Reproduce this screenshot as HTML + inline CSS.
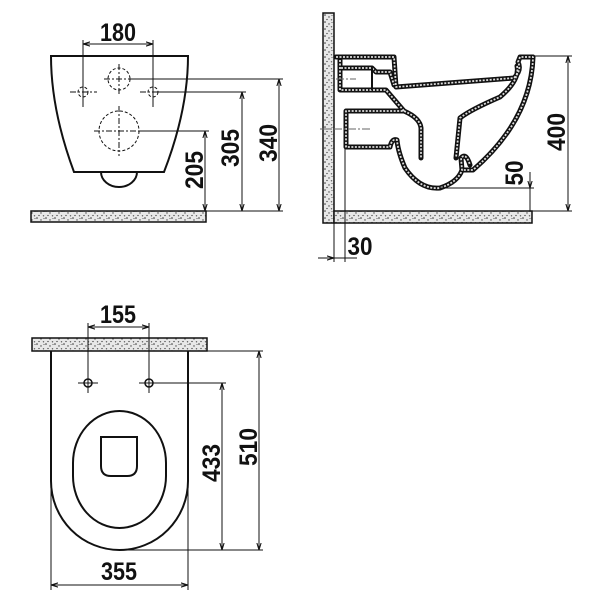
<!DOCTYPE html>
<html><head><meta charset="utf-8"><style>
html,body{margin:0;padding:0;background:#fff}
svg{display:block}
text{font-family:"Liberation Sans",sans-serif;font-weight:bold;fill:#111}
</style></head><body>
<svg width="600" height="600" viewBox="0 0 600 600" xmlns="http://www.w3.org/2000/svg">
<defs>
<pattern id="sp" width="9" height="7" patternUnits="userSpaceOnUse">
<rect width="9" height="7" fill="#e8e8e8"/>
<circle cx="1" cy="1" r="0.8" fill="#333"/><circle cx="5" cy="3" r="0.7" fill="#444"/>
<circle cx="3" cy="5.5" r="0.6" fill="#222"/><circle cx="7.5" cy="5.8" r="0.7" fill="#555"/>
<circle cx="8" cy="1.5" r="0.5" fill="#333"/>
</pattern>
<marker id="a" viewBox="0 0 10 10" refX="10" refY="5" markerWidth="7" markerHeight="7" orient="auto-start-reverse"><path d="M0,2 L10,5 L0,8" fill="none" stroke="#111" stroke-width="1.5"/></marker>
</defs>
<g fill="none" stroke="#111" stroke-width="1">
<!-- FRONT VIEW -->
<rect x="31" y="211" width="175" height="11" fill="url(#sp)" stroke-width="1.5"/>
<path d="M51,56 L188,56 Q188,110 164,172 L74,172 Q51,110 51,56 Z" stroke-width="2"/>
<path d="M101,172 A18,15 0 0 0 137,172" stroke-width="2"/>
<g stroke-dasharray="3,2">
<circle cx="119" cy="79" r="11"/><circle cx="83" cy="92" r="5"/><circle cx="153" cy="92" r="5"/><circle cx="119" cy="131" r="20"/>
</g>
<g stroke-dasharray="6,2,2,2">
<line x1="104" y1="79" x2="134" y2="79"/><line x1="119" y1="64" x2="119" y2="94"/>
<line x1="70" y1="92" x2="97" y2="92"/><line x1="140" y1="92" x2="167" y2="92"/>
<line x1="94" y1="131" x2="145" y2="131"/><line x1="119" y1="106" x2="119" y2="156"/>
</g>
<line x1="83" y1="40" x2="83" y2="107"/><line x1="153" y1="40" x2="153" y2="107"/>
<line x1="83" y1="44" x2="153" y2="44" marker-start="url(#a)" marker-end="url(#a)"/>
<line x1="134" y1="79" x2="283" y2="79"/><line x1="158" y1="92" x2="246" y2="92"/><line x1="140" y1="131" x2="209" y2="131"/>
<line x1="206" y1="211" x2="283" y2="211"/>
<line x1="279" y1="79" x2="279" y2="211" marker-start="url(#a)" marker-end="url(#a)"/>
<line x1="242" y1="92" x2="242" y2="211" marker-start="url(#a)" marker-end="url(#a)"/>
<line x1="205" y1="131" x2="205" y2="211" marker-start="url(#a)" marker-end="url(#a)"/>

<!-- SIDE VIEW -->
<rect x="323" y="13" width="11" height="210" fill="url(#sp)" stroke-width="1.5"/>
<rect x="334" y="211" width="198" height="12" fill="url(#sp)" stroke-width="1.5"/>
<g stroke-width="5" stroke-linejoin="round" stroke-linecap="round">
<path d="M336,57 L394,57 L396,87 L514,78 Q522,70 518,62 L520,57 L533,57 Q531,120 473,170 L462,170"/>
<path d="M340,60 L340,90 L386,90 L404,111 L346,111 L346,147 L390,147 Q392,138 397,140 Q398,152 405,168 Q420,190 440,188 Q458,182 462,170 L461,158 Q466,152 470,165"/>
<path d="M341,68 L372,68 L376,72 L390,72 L394,85"/>
<path d="M404,111 Q420,118 421,128 L421,158"/>
<path d="M517,66 Q520,80 500,97 Q470,110 460,118 L456,158"/>
</g>
<g stroke-width="1.8" stroke="#ddd" stroke-dasharray="2,1.5" stroke-linejoin="round">
<path d="M336,57 L394,57 L396,87 L514,78 Q522,70 518,62 L520,57 L533,57 Q531,120 473,170 L462,170"/>
<path d="M340,60 L340,90 L386,90 L404,111 L346,111 L346,147 L390,147 Q392,138 397,140 Q398,152 405,168 Q420,190 440,188 Q458,182 462,170 L461,158 Q466,152 470,165"/>
<path d="M341,68 L372,68 L376,72 L390,72 L394,85"/>
<path d="M404,111 Q420,118 421,128 L421,158"/>
<path d="M517,66 Q520,80 500,97 Q470,110 460,118 L456,158"/>
</g>
<line x1="372" y1="68" x2="372" y2="90" stroke-width="2"/>
<g stroke-dasharray="8,2,2,2" stroke="#666">
<line x1="336" y1="79" x2="356" y2="79"/><line x1="320" y1="129" x2="372" y2="129"/>
</g>
<line x1="533" y1="56" x2="572" y2="56"/><line x1="532" y1="211" x2="572" y2="211"/>
<line x1="568" y1="56" x2="568" y2="211" marker-start="url(#a)" marker-end="url(#a)"/>
<line x1="440" y1="188" x2="534" y2="188"/>
<line x1="530" y1="172" x2="530" y2="188" marker-end="url(#a)"/>
<line x1="530" y1="188" x2="530" y2="211"/>
<line x1="334" y1="223" x2="334" y2="262"/><line x1="345" y1="147" x2="345" y2="262"/>
<line x1="318" y1="258" x2="334" y2="258" marker-end="url(#a)"/>
<line x1="334" y1="258" x2="357" y2="258"/>

<!-- TOP VIEW -->
<rect x="32" y="338" width="175" height="13" fill="url(#sp)" stroke-width="1.5"/>
<path d="M51,351 L51,481 A68.5,69 0 0 0 188,481 L188,351" stroke-width="2"/>
<rect x="73" y="411" width="93" height="117" rx="46.5" ry="52" stroke-width="2"/>
<path d="M101,437 L137,437 L137,466 Q137,476 127,476 L111,476 Q101,476 101,466 Z" stroke-width="2" fill="#fff"/>
<circle cx="88" cy="383" r="4" stroke-width="1.5"/><circle cx="149" cy="383" r="4" stroke-width="1.5"/>
<line x1="78" y1="383" x2="98" y2="383"/><line x1="139" y1="383" x2="159" y2="383"/>
<line x1="88" y1="323" x2="88" y2="393"/><line x1="149" y1="323" x2="149" y2="393"/>
<line x1="88" y1="327" x2="149" y2="327" marker-start="url(#a)" marker-end="url(#a)"/>
<line x1="207" y1="351" x2="263" y2="351"/><line x1="153" y1="383" x2="226" y2="383"/>
<line x1="120" y1="550" x2="263" y2="550"/>
<line x1="259" y1="351" x2="259" y2="550" marker-start="url(#a)" marker-end="url(#a)"/>
<line x1="222" y1="383" x2="222" y2="550" marker-start="url(#a)" marker-end="url(#a)"/>
<line x1="51" y1="481" x2="51" y2="590"/><line x1="188" y1="481" x2="188" y2="590"/>
<line x1="51" y1="585" x2="188" y2="585" marker-start="url(#a)" marker-end="url(#a)"/>
</g>
<g font-size="25">
<text x="118" y="41" text-anchor="middle" textLength="36" lengthAdjust="spacingAndGlyphs">180</text>
<text transform="translate(277,143) rotate(-90)" text-anchor="middle" textLength="38" lengthAdjust="spacingAndGlyphs">340</text>
<text transform="translate(239,148) rotate(-90)" text-anchor="middle" textLength="38" lengthAdjust="spacingAndGlyphs">305</text>
<text transform="translate(203,170) rotate(-90)" text-anchor="middle" textLength="38" lengthAdjust="spacingAndGlyphs">205</text>
<text transform="translate(565,132) rotate(-90)" text-anchor="middle" textLength="38" lengthAdjust="spacingAndGlyphs">400</text>
<text transform="translate(523,173) rotate(-90)" text-anchor="middle" textLength="25" lengthAdjust="spacingAndGlyphs">50</text>
<text x="360" y="255" text-anchor="middle" textLength="25" lengthAdjust="spacingAndGlyphs">30</text>
<text x="118" y="323" text-anchor="middle" textLength="36" lengthAdjust="spacingAndGlyphs">155</text>
<text transform="translate(257,447) rotate(-90)" text-anchor="middle" textLength="38" lengthAdjust="spacingAndGlyphs">510</text>
<text transform="translate(220,463) rotate(-90)" text-anchor="middle" textLength="38" lengthAdjust="spacingAndGlyphs">433</text>
<text x="119" y="580" text-anchor="middle" textLength="36" lengthAdjust="spacingAndGlyphs">355</text>
</g>
</svg>
</body></html>
